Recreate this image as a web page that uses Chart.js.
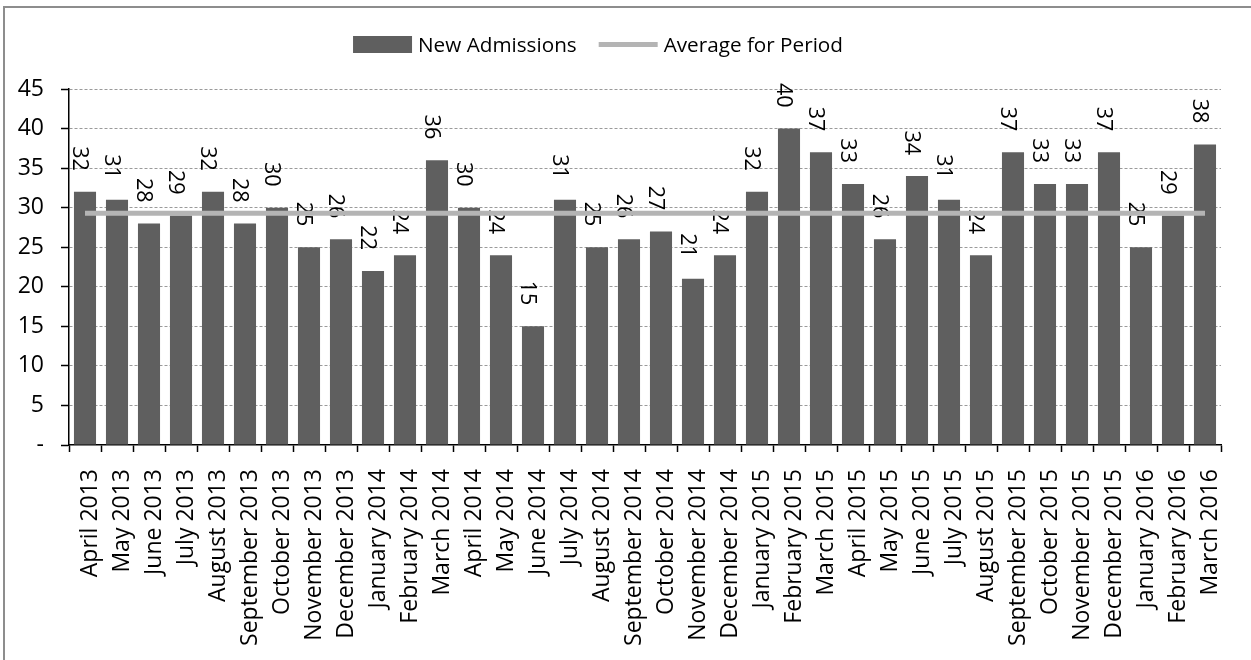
<!DOCTYPE html>
<html>
<head>
<meta charset="utf-8">
<title>New Admissions</title>
<script src="https://cdn.jsdelivr.net/npm/chart.js@4.4.1/dist/chart.umd.min.js"></script>
<style>
  html, body { margin: 0; padding: 0; background: #fff; overflow: hidden; }
  #wrap { position: relative; width: 1251px; height: 660px; }
</style>
</head>
<body>
<div id="wrap"><canvas id="myChart"></canvas></div>
<script>
'use strict';

//--------------------DATA
let months = [
  'April 2013', 'May 2013', 'June 2013', 'July 2013', 'August 2013', 'September 2013',
  'October 2013', 'November 2013', 'December 2013', 'January 2014', 'February 2014', 'March 2014',
  'April 2014', 'May 2014', 'June 2014', 'July 2014', 'August 2014', 'September 2014',
  'October 2014', 'November 2014', 'December 2014', 'January 2015', 'February 2015', 'March 2015',
  'April 2015', 'May 2015', 'June 2015', 'July 2015', 'August 2015', 'September 2015',
  'October 2015', 'November 2015', 'December 2015', 'January 2016', 'February 2016', 'March 2016'
];

let newAdmissions = [
  32, 31, 28, 29, 32, 28, 30, 25, 26, 22, 24, 36,
  30, 24, 15, 31, 25, 26, 27, 21, 24, 32, 40, 37,
  33, 26, 34, 31, 24, 37, 33, 33, 37, 25, 29, 38
];

let periodAverage = [
  29.3, 29.3, 29.3, 29.3, 29.3, 29.3, 29.3, 29.3, 29.3, 29.3, 29.3, 29.3,
  29.3, 29.3, 29.3, 29.3, 29.3, 29.3, 29.3, 29.3, 29.3, 29.3, 29.3, 29.3,
  29.3, 29.3, 29.3, 29.3, 29.3, 29.3, 29.3, 29.3, 29.3, 29.3, 29.3, 29.3
];

let yTickLabels = ['-', '5', '10', '15', '20', '25', '30', '35', '40', '45'];

let seriesNames = ['New Admissions', 'Average for Period'];

//--------------------STYLE
let barColor = '#5f5f5f';
let lineColor = '#b4b4b4';
let fontName = '"Open Sans", sans-serif';

Chart.defaults.font.family = fontName;
Chart.defaults.color = '#000';

//--------------------PLUGINS
// outer frame (only left + top edges are inside the picture)
let framePlugin = {
  id: 'frame',
  beforeDraw(chart) {
    let ctx = chart.ctx;
    ctx.save();
    ctx.fillStyle = '#fff';
    ctx.fillRect(0, 0, chart.width, chart.height);
    ctx.strokeStyle = '#8d8d8d';
    ctx.lineWidth = 2;
    ctx.beginPath();
    ctx.moveTo(4, chart.height + 5);
    ctx.lineTo(4, 7);
    ctx.lineTo(chart.width + 5, 7);
    ctx.stroke();
    ctx.restore();
  }
};

// rotated value labels above the bars
let barLabelPlugin = {
  id: 'barLabels',
  afterDatasetDraw(chart, args) {
    if (args.index !== 0) return;
    let ctx = chart.ctx;
    let meta = args.meta;
    ctx.save();
    ctx.font = '21.5px ' + fontName;
    ctx.fillStyle = '#000';
    ctx.textAlign = 'right';
    ctx.textBaseline = 'alphabetic';
    meta.data.forEach((bar, i) => {
      ctx.save();
      ctx.translate(bar.x - 12, bar.y - 21);
      ctx.rotate(Math.PI / 2);
      ctx.fillText(String(newAdmissions[i]), 0, 0);
      ctx.restore();
    });
    ctx.restore();
  }
};

// legend drawn by hand so it sits where the original does
let legendPlugin = {
  id: 'customLegend',
  afterDraw(chart) {
    let ctx = chart.ctx;
    ctx.save();
    ctx.font = '20.7px ' + fontName;
    let w1 = ctx.measureText(seriesNames[0]).width;
    let w2 = ctx.measureText(seriesNames[1]).width;
    let boxW = 59;
    let gap = 6;
    let between = 22;
    let total = boxW + gap + w1 + between + boxW + gap + w2;
    let x = 598 - total / 2;
    let midY = 44.5;

    ctx.fillStyle = barColor;
    ctx.fillRect(x, 36, boxW, 17);
    ctx.fillStyle = '#000';
    ctx.textBaseline = 'alphabetic';
    ctx.fillText(seriesNames[0], x + boxW + gap, 51.5);

    x += boxW + gap + w1 + between;
    ctx.strokeStyle = lineColor;
    ctx.lineWidth = 5;
    ctx.beginPath();
    ctx.moveTo(x, midY);
    ctx.lineTo(x + boxW, midY);
    ctx.stroke();
    ctx.fillText(seriesNames[1], x + boxW + gap, 51.5);
    ctx.restore();
  }
};

//--------------------CHART
let canvasElem = document.getElementById('myChart');

new Chart(canvasElem, {
  type: 'bar',
  data: {
    labels: months,
    datasets: [
      {
        label: seriesNames[0],
        data: newAdmissions,
        backgroundColor: barColor,
        borderWidth: 0,
        categoryPercentage: 1,
        barPercentage: 0.69,
        order: 1
      },
      {
        type: 'line',
        label: seriesNames[1],
        data: periodAverage,
        borderColor: lineColor,
        borderWidth: 5,
        pointRadius: 0,
        fill: false,
        order: 0
      }
    ]
  },
  options: {
    responsive: true,
    maintainAspectRatio: false,
    animation: false,
    layout: { padding: { left: 0, right: 30, top: 89, bottom: 0 } },
    plugins: {
      legend: { display: false },
      tooltip: { enabled: false }
    },
    scales: {
      x: {
        afterFit(scale) { scale.height = 215; },
        grid: {
          offset: true,
          drawOnChartArea: false,
          drawTicks: true,
          tickLength: 7,
          tickColor: '#000',
          tickWidth: 1.5
        },
        border: { color: '#000', width: 1.5 },
        ticks: {
          autoSkip: false,
          minRotation: 90,
          maxRotation: 90,
          padding: 17,
          labelOffset: 5,
          font: { size: 23 },
          color: '#000'
        }
      },
      y: {
        min: 0,
        max: 45,
        afterFit(scale) { scale.width = 69; },
        grid: {
          color: (c) => (c.tick && c.tick.value === 0 ? 'rgba(0,0,0,0)' : '#9a9a9a'),
          lineWidth: 1,
          drawTicks: true,
          tickLength: 8,
          tickColor: '#000',
          tickWidth: 1.5
        },
        border: { color: '#000', width: 1.5, dash: [3, 2] },
        ticks: {
          stepSize: 5,
          padding: 17,
          font: { size: 23 },
          color: '#000',
          callback: (value, index) => yTickLabels[index]
        }
      }
    }
  },
  plugins: [framePlugin, barLabelPlugin, legendPlugin]
});
</script>
</body>
</html>
